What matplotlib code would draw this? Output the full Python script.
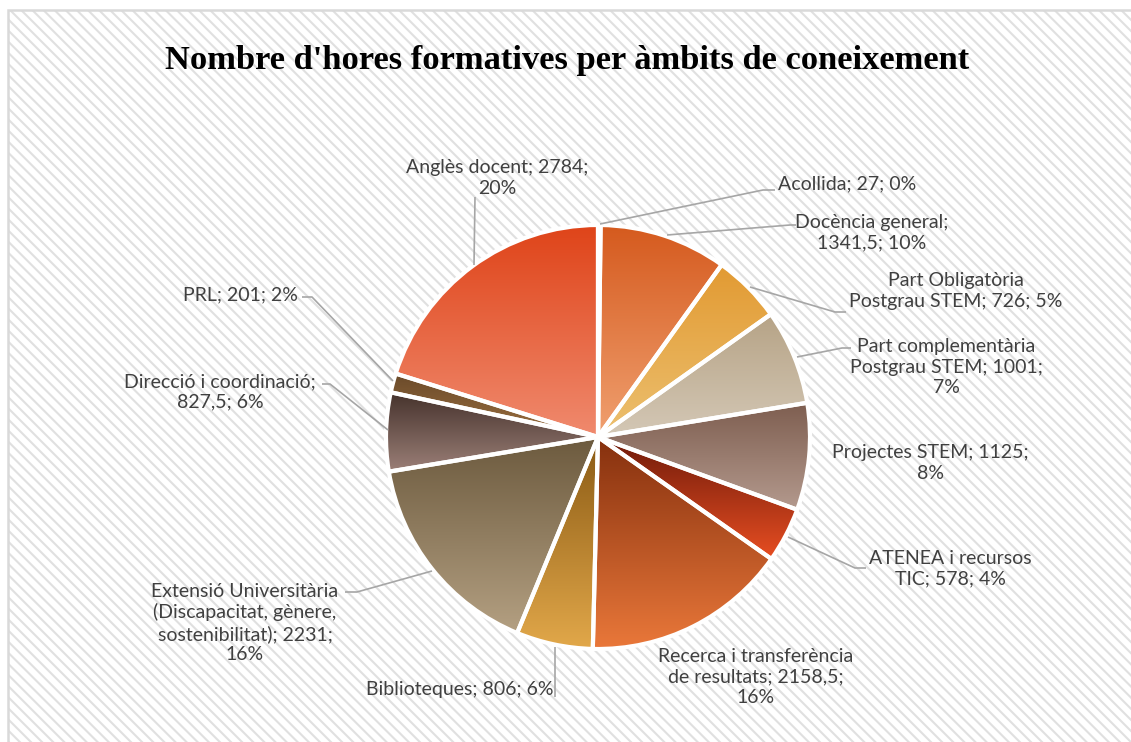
import numpy as np
import matplotlib
matplotlib.use("Agg")
import matplotlib.pyplot as plt
from matplotlib.colors import to_rgb
from matplotlib.patches import Rectangle

# ---------------- data ----------------
categories = ["Acollida", "Docència general", "Part Obligatòria Postgrau STEM",
              "Part complementària Postgrau STEM", "Projectes STEM",
              "ATENEA i recursos TIC", "Recerca i transferència de resultats",
              "Biblioteques", "Extensió Universitària (Discapacitat, gènere, sostenibilitat)",
              "Direcció i coordinació", "PRL", "Anglès docent"]
hours = [27, 1341.5, 726, 1001, 1125, 578, 2158.5, 806, 2231, 827.5, 201, 2784]
label_texts = [
    "Acollida; 27; 0%",
    "Docència general;\n1341,5; 10%",
    "Part Obligatòria\nPostgrau STEM; 726; 5%",
    "Part complementària\nPostgrau STEM; 1001;\n7%",
    "Projectes STEM; 1125;\n8%",
    "ATENEA i recursos\nTIC; 578; 4%",
    "Recerca i transferència\nde resultats; 2158,5;\n16%",
    "Biblioteques; 806; 6%",
    "Extensió Universitària\n(Discapacitat, gènere,\nsostenibilitat); 2231;\n16%",
    "Direcció i coordinació;\n827,5; 6%",
    "PRL; 201; 2%",
    "Anglès docent; 2784;\n20%",
]
title = "Nombre d'hores formatives per àmbits de coneixement"

# gradient colours (top, bottom) per slice
grad_top = ["#C8602C", "#D55A1E", "#E29A32", "#B6A386", "#7E5E50", "#6E1A0A",
            "#85300E", "#8A5A14", "#6C5A3E", "#45322C", "#6A4A2A", "#DF4419"]
grad_bot = ["#E89060", "#F0A070", "#ECC070", "#D4C8B6", "#B49A8E", "#E84E22",
            "#EA783A", "#E2A84A", "#B4A082", "#9C8078", "#9C7040", "#F08A6E"]

# ---------------- layout (pixel coords, y measured from top) ----------------
W, H = 1131, 742
def Y(y):
    return H - y

center = (598, Y(437))
radius = 212

label_pos = [(847, 184), (872, 233), (956, 291), (946, 367), (930, 463),
             (950, 569), (756, 677), (460, 690), (245, 623), (220, 392),
             (240, 295), (497, 178)]
leaders = [
    [(600, 224), (763, 190), (775, 190)],
    [(667, 235), (790, 225), (796, 225)],
    [(750, 287), (835, 312), (846, 312)],
    [(797, 357), (842, 348), (851, 348)],
    None,
    [(788, 537), (855, 568), (866, 568)],
    None,
    [(555, 647), (555, 697)],
    [(432, 571), (357, 592), (345, 592)],
    [(322, 384), (330, 384), (388, 430)],
    [(302, 297), (312, 297), (393, 381)],
    [(475, 197), (474, 265)],
]

plt.rcParams['hatch.color'] = '#E0E0E0'
plt.rcParams['hatch.linewidth'] = 1.5

fig = plt.figure(figsize=(W / 100, H / 100), dpi=100)
fig.patch.set_facecolor('white')
ax = fig.add_axes([0, 0, 1, 1])

# background with diagonal hatch and frame
bg = Rectangle((8, Y(742 + 10)), W, 742, facecolor='white', edgecolor='#E0E0E0',
               hatch='\\\\\\', linewidth=0, zorder=0)
ax.add_patch(bg)
frame = Rectangle((8, Y(742 + 10)), W, 742, facecolor='none', edgecolor='#D9D9D9',
                  linewidth=1.8, zorder=1)
ax.add_patch(frame)

wedges, _ = ax.pie(hours, startangle=90, counterclock=False, center=center,
                   radius=radius,
                   wedgeprops=dict(facecolor='none', edgecolor='white', linewidth=3))

for w, ct, cb in zip(wedges, grad_top, grad_bot):
    w.set_zorder(4)
    ext = w.get_path().get_extents()
    t = np.linspace(0, 1, 256)[:, None]
    c0 = np.array(to_rgb(cb))
    c1 = np.array(to_rgb(ct))
    arr = (c0[None, :] * (1 - t) + c1[None, :] * t)[:, None, :]
    im = ax.imshow(arr, extent=[ext.x0, ext.x1, ext.y0, ext.y1], origin='lower',
                   aspect='auto', interpolation='bilinear', zorder=3)
    im.set_clip_path(w)

for txt, (x, y) in zip(label_texts, label_pos):
    ax.text(x, Y(y), txt, ha='center', va='center', multialignment='center',
            fontsize=14, family=['Lato', 'DejaVu Sans'], color='#404040',
            linespacing=1.25, zorder=6)

for seg in leaders:
    if seg is None:
        continue
    xs = [p[0] for p in seg]
    ys = [Y(p[1]) for p in seg]
    ax.plot(xs, ys, color='#A6A6A6', lw=1.2, zorder=5, solid_capstyle='butt')

ax.text(567, Y(60), title, ha='center', va='center', fontsize=24.8,
        family='Liberation Serif', weight='bold', color='black', zorder=6)

ax.set_xlim(0, W)
ax.set_ylim(0, H)
ax.set_aspect('auto')
ax.axis('off')

fig.savefig('out.png', dpi=100)
